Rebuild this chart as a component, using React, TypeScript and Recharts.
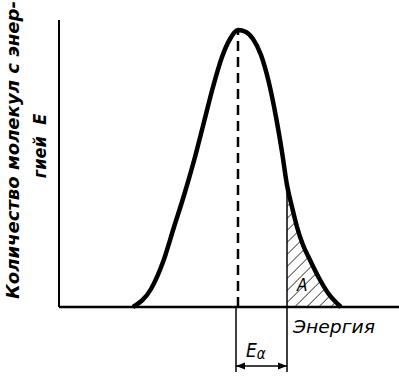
import { ComposedChart, Line, Area, XAxis, YAxis, ReferenceLine } from "recharts";

// energy (x) and number of molecules (y)
const energy = [74, 92, 104, 115, 126, 136, 145, 154, 163, 171, 179, 187, 194, 202, 210, 217, 223, 228, 233, 238, 244, 251, 260, 269, 282];
const count = [0, 18, 45, 80, 115, 150, 185, 220, 250, 268, 277, 275, 268, 252, 224, 190, 155, 122, 100, 80, 62, 47, 29, 14, 0];

const peakE = 179;
const activationE = 228; // start of the hatched tail
const axisTop = 287;
const below = -59; // level of the Eα arrow

const yLabel = ["Количество молекул с энер-", "гией  E"];

const data = energy.map((e, i) => ({
  e,
  n: count[i],
  tail: e >= activationE ? count[i] : null,
}));

const font = "'Liberation Sans Narrow', 'DejaVu Sans Condensed', 'DejaVu Sans', sans-serif";

const ArrowShape = (props: any) => {
  const { x1, y1, x2, y2 } = props;
  const a = 9;
  const h = 3.5;
  return (
    <g>
      <line x1={x1} y1={y1} x2={x2} y2={y2} stroke="#000" strokeWidth={1.5} />
      <path d={`M${x1},${y1} L${x1 + a},${y1 - h} L${x1 + a},${y1 + h} Z`} fill="#000" />
      <path d={`M${x2},${y2} L${x2 - a},${y2 - h} L${x2 - a},${y2 + h} Z`} fill="#000" />
    </g>
  );
};

const App = () => {
  return (
    <div style={{ position: "absolute", left: 0, top: 0, width: 399, height: 378, background: "#fff" }}>
      <ComposedChart
        width={399}
        height={378}
        data={data}
        margin={{ top: 20, right: 0, left: 59, bottom: 6 }}
      >
        <defs>
          <pattern id="hatch" width={8.5} height={8.5} patternUnits="userSpaceOnUse" patternTransform="rotate(45)">
            <line x1={0} y1={0} x2={0} y2={8.5} stroke="#000" strokeWidth={1.3} />
          </pattern>
        </defs>
        <XAxis type="number" dataKey="e" domain={[0, 340]} hide allowDataOverflow />
        <YAxis type="number" domain={[below - 6, axisTop]} hide allowDataOverflow />

        <Area
          dataKey="tail"
          type="monotone"
          fill="url(#hatch)"
          fillOpacity={1}
          stroke="none"
          isAnimationActive={false}
        />

        <ReferenceLine segment={[{ x: 0, y: 0 }, { x: 0, y: axisTop }]} stroke="#000" strokeWidth={2} />
        <ReferenceLine y={0} stroke="#000" strokeWidth={2.5} />
        <ReferenceLine
          segment={[{ x: peakE, y: 0 }, { x: peakE, y: 277 }]}
          stroke="#000"
          strokeWidth={2.5}
          strokeDasharray="10 6"
        />
        <ReferenceLine segment={[{ x: peakE - 2, y: below - 6 }, { x: peakE - 2, y: 0 }]} stroke="#000" strokeWidth={1.5} />
        <ReferenceLine segment={[{ x: activationE, y: below - 6 }, { x: activationE, y: 122 }]} stroke="#000" strokeWidth={1.5} />
        <ReferenceLine
          segment={[{ x: peakE - 2, y: below }, { x: activationE, y: below }]}
          shape={ArrowShape}
        />

        <Line
          dataKey="n"
          type="monotone"
          stroke="#000"
          strokeWidth={4.5}
          dot={false}
          isAnimationActive={false}
        />

        <text x={297} y={291} fontFamily={font} fontStyle="italic" fontSize={17} fill="#000">A</text>
        <text x={293} y={333} fontFamily={font} fontStyle="italic" fontSize={18} fill="#000" textLength={82} lengthAdjust="spacingAndGlyphs">Энергия</text>
        <text x={246} y={357} fontFamily={font} fontStyle="italic" fontSize={19} fill="#000">
          E<tspan fontSize={15} dy={2}>α</tspan>
        </text>
        <text
          transform="translate(19,150) rotate(-90)"
          textAnchor="middle"
          fontFamily={font}
          fontStyle="italic"
          fontWeight="bold"
          fontSize={18}
          fill="#000"
          textLength={298}
          lengthAdjust="spacingAndGlyphs"
        >
          {yLabel[0]}
        </text>
        <text
          transform="translate(46,146) rotate(-90)"
          textAnchor="middle"
          fontFamily={font}
          fontStyle="italic"
          fontWeight="bold"
          fontSize={18}
          fill="#000"
          xmlSpace="preserve"
        >
          {yLabel[1]}
        </text>
      </ComposedChart>
    </div>
  );
};

export default App;
